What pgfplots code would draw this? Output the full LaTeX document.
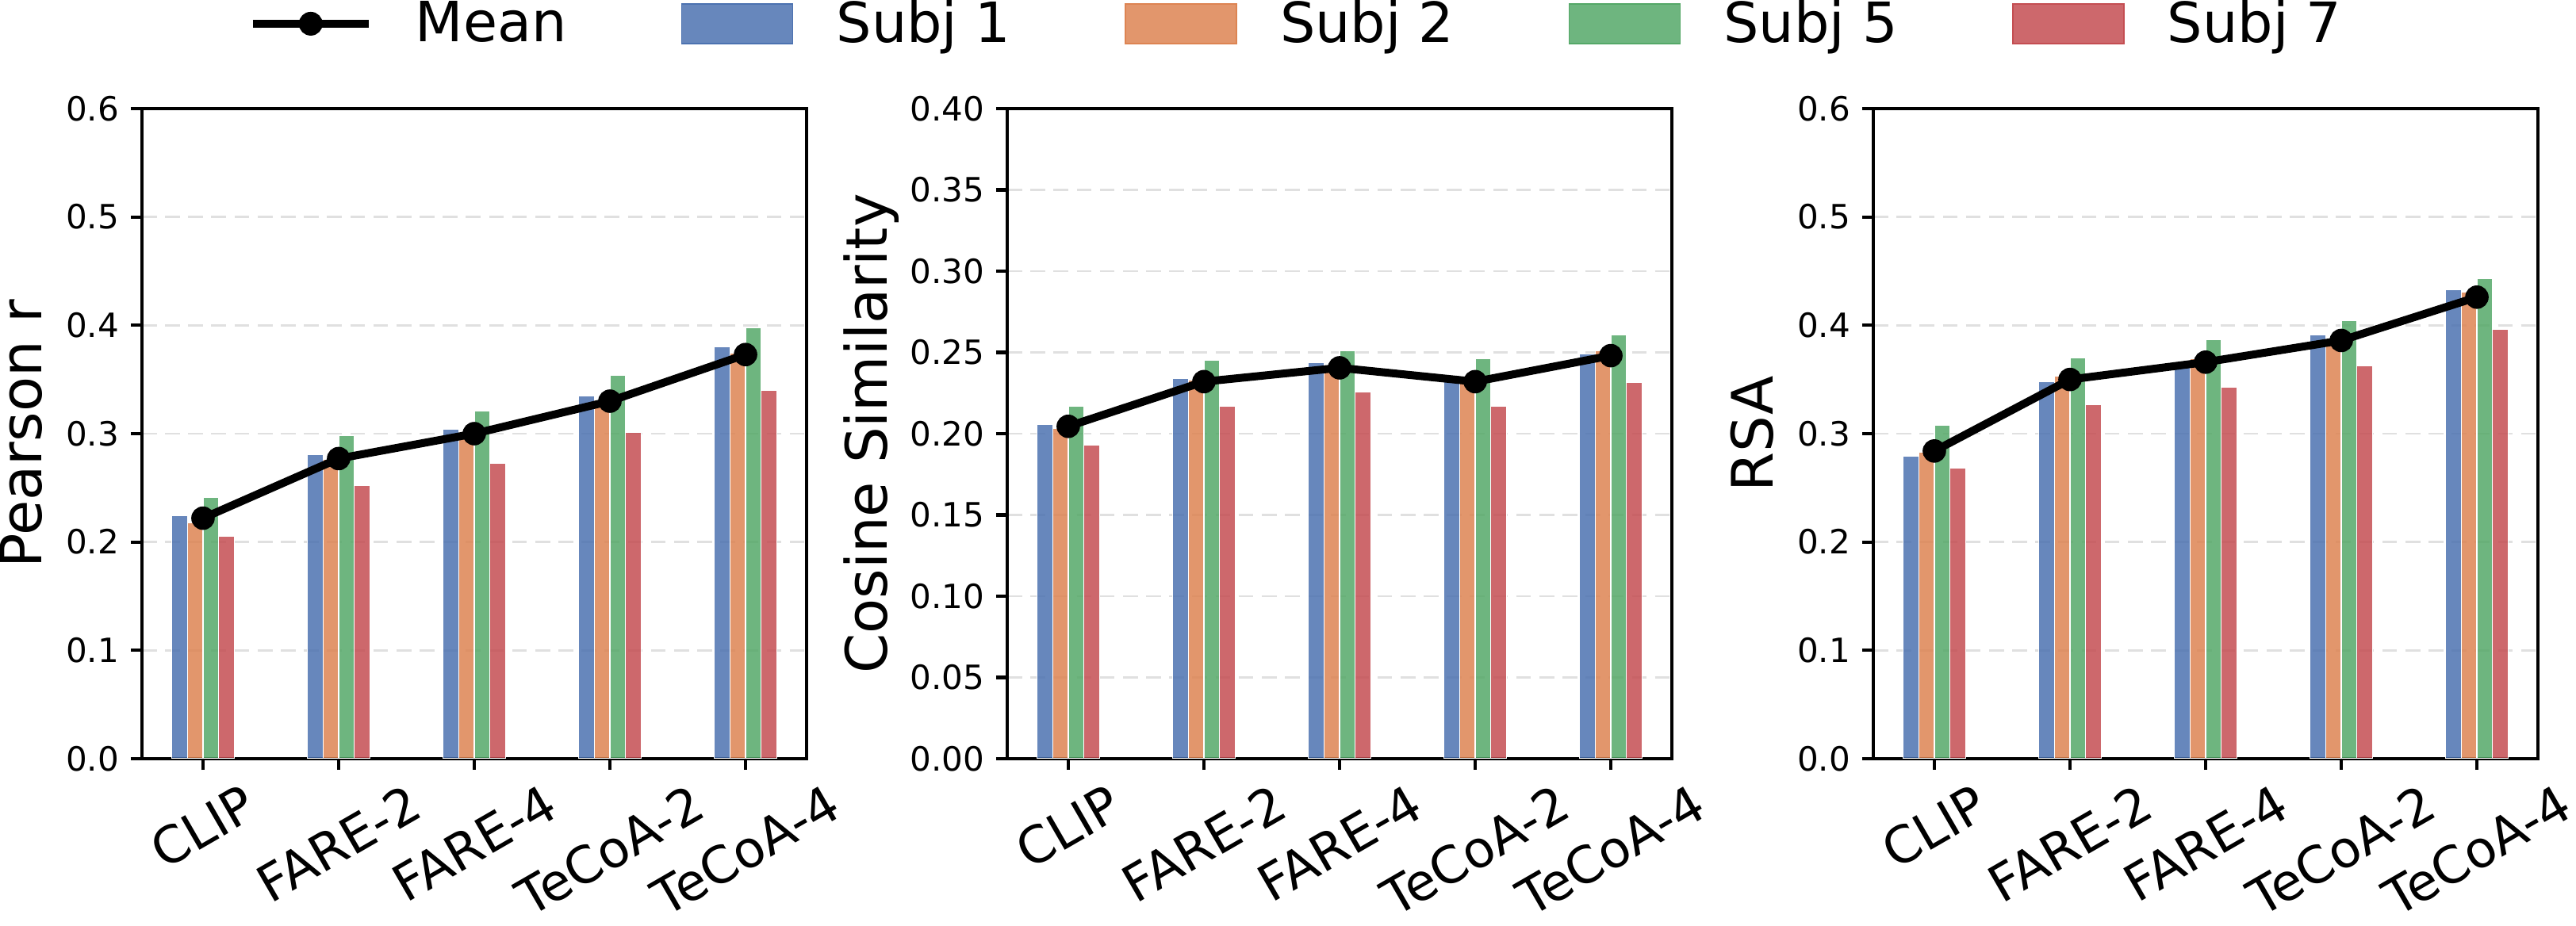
\documentclass[border=0pt]{standalone}
\usepackage{fontspec}
\setmainfont{DejaVu Sans}
\usepackage{graphicx}
\usepackage{pgfplots}
\pgfplotsset{compat=1.18}
\definecolor{cB}{HTML}{4C72B0}
\definecolor{cO}{HTML}{DD8452}
\definecolor{cG}{HTML}{55A868}
\definecolor{cR}{HTML}{C44E52}
\definecolor{gridc}{HTML}{E0E0E0}

\pgfplotsset{
  panel/.style={
    scale only axis, width=201.12pt, height=196.8pt,
    anchor=south west,
    xmin=-0.45, xmax=4.45, ymin=0,
    xtick={0,1,2,3,4},
    xticklabels={\rotatebox{30}{CLIP},\rotatebox{30}{FARE-2},\rotatebox{30}{FARE-4},\rotatebox{30}{TeCoA-2},\rotatebox{30}{TeCoA-4}},
    xtick pos=left, ytick pos=left,
    tick align=outside, major tick length=3.4pt,
    tick style={black, line width=1pt},
    axis line style={line width=1pt},
    ymajorgrids, grid style={gridc, dash pattern=on 4.5pt off 2.5pt, line width=0.7pt},
    scaled y ticks=false,
    /pgf/number format/assume math mode=true,
    yticklabel style={font=\fontsize{10.1}{12}\selectfont},
    xticklabel style={anchor=north, yshift=-0.3pt, font=\fontsize{15.4}{18}\selectfont},
    ylabel style={font=\fontsize{17.3}{20}\selectfont, anchor=base, inner sep=0pt},
  },
  subjbar/.style={ybar, bar width=0.115, draw=white, line width=0.3pt, fill opacity=0.85, forget plot},
  meanline/.style={black, line width=2.4pt, mark=*, mark size=3.4pt, mark options={solid, fill=black, line width=0.3pt}, forget plot},
}

\begin{document}
\begin{tikzpicture}
\path[use as bounding box] (-42.96pt,-50.64pt) rectangle (736.56pt,229.68pt);

% Panel 1: Pearson r
\begin{axis}[panel, at={(0pt,0pt)},
  ymax=0.6, ytick={0,0.1,0.2,0.3,0.4,0.5,0.6},
  yticklabel style={/pgf/number format/fixed, /pgf/number format/fixed zerofill, /pgf/number format/precision=1},
  ylabel={Pearson r},
  ylabel style={at={(axis description cs:-0.1504,0.5)}},
  legend style={at={(axis description cs:1.7353,1.1306)}, anchor=center, draw=none, fill=none,
    legend columns=5, font=\fontsize{16.8}{20}\selectfont,
    /tikz/every odd column/.append style={column sep=13pt},
    /tikz/every even column/.append style={column sep=34.6pt},
    inner sep=0pt, nodes={inner sep=0pt}},
]
\addlegendimage{legend image code/.code={\draw[black,line width=2.4pt] (0pt,0pt) -- (35pt,0pt); \fill[black] (17.5pt,0pt) circle (3.4pt);}}
\addlegendentry{Mean}
\addlegendimage{legend image code/.code={\fill[cB, fill opacity=0.85] (0pt,-6pt) rectangle (33.6pt,6pt);}}
\addlegendentry{Subj 1}
\addlegendimage{legend image code/.code={\fill[cO, fill opacity=0.85] (0pt,-6pt) rectangle (33.6pt,6pt);}}
\addlegendentry{Subj 2}
\addlegendimage{legend image code/.code={\fill[cG, fill opacity=0.85] (0pt,-6pt) rectangle (33.6pt,6pt);}}
\addlegendentry{Subj 5}
\addlegendimage{legend image code/.code={\fill[cR, fill opacity=0.85] (0pt,-6pt) rectangle (33.6pt,6pt);}}
\addlegendentry{Subj 7}
\addplot[subjbar, fill=cB, bar shift=-0.1725] coordinates {(0,0.224) (1,0.281) (2,0.304) (3,0.335) (4,0.380)};
\addplot[subjbar, fill=cO, bar shift=-0.0575] coordinates {(0,0.218) (1,0.276) (2,0.301) (3,0.328) (4,0.374)};
\addplot[subjbar, fill=cG, bar shift=0.0575] coordinates {(0,0.241) (1,0.298) (2,0.321) (3,0.354) (4,0.398)};
\addplot[subjbar, fill=cR, bar shift=0.1725] coordinates {(0,0.205) (1,0.252) (2,0.273) (3,0.301) (4,0.340)};
\addplot[meanline] coordinates {(0,0.222) (1,0.277) (2,0.300) (3,0.330) (4,0.373)};
\end{axis}

% Panel 2: Cosine Similarity
\begin{axis}[panel, at={(261.84pt,0pt)},
  ymax=0.4, ytick={0,0.05,0.1,0.15,0.2,0.25,0.3,0.35,0.4},
  yticklabel style={/pgf/number format/fixed, /pgf/number format/fixed zerofill, /pgf/number format/precision=2},
  ylabel={Cosine Similarity},
  ylabel style={at={(axis description cs:-0.1802,0.5)}},
]
\addplot[subjbar, fill=cB, bar shift=-0.1725] coordinates {(0,0.2055) (1,0.234) (2,0.2435) (3,0.233) (4,0.249)};
\addplot[subjbar, fill=cO, bar shift=-0.0575] coordinates {(0,0.203) (1,0.233) (2,0.2415) (3,0.232) (4,0.251)};
\addplot[subjbar, fill=cG, bar shift=0.0575] coordinates {(0,0.2167) (1,0.245) (2,0.2512) (3,0.246) (4,0.2606)};
\addplot[subjbar, fill=cR, bar shift=0.1725] coordinates {(0,0.193) (1,0.2167) (2,0.2258) (3,0.217) (4,0.2314)};
\addplot[meanline] coordinates {(0,0.2045) (1,0.232) (2,0.2405) (3,0.232) (4,0.248)};
\end{axis}

% Panel 3: RSA
\begin{axis}[panel, at={(523.92pt,0pt)},
  ymax=0.6, ytick={0,0.1,0.2,0.3,0.4,0.5,0.6},
  yticklabel style={/pgf/number format/fixed, /pgf/number format/fixed zerofill, /pgf/number format/precision=1},
  ylabel={RSA},
  ylabel style={at={(axis description cs:-0.1504,0.5)}},
]
\addplot[subjbar, fill=cB, bar shift=-0.1725] coordinates {(0,0.279) (1,0.348) (2,0.362) (3,0.391) (4,0.433)};
\addplot[subjbar, fill=cO, bar shift=-0.0575] coordinates {(0,0.283) (1,0.353) (2,0.369) (3,0.384) (4,0.431)};
\addplot[subjbar, fill=cG, bar shift=0.0575] coordinates {(0,0.3075) (1,0.370) (2,0.387) (3,0.404) (4,0.443)};
\addplot[subjbar, fill=cR, bar shift=0.1725] coordinates {(0,0.268) (1,0.327) (2,0.343) (3,0.363) (4,0.396)};
\addplot[meanline] coordinates {(0,0.284) (1,0.350) (2,0.366) (3,0.386) (4,0.426)};
\end{axis}
\end{tikzpicture}
\end{document}
